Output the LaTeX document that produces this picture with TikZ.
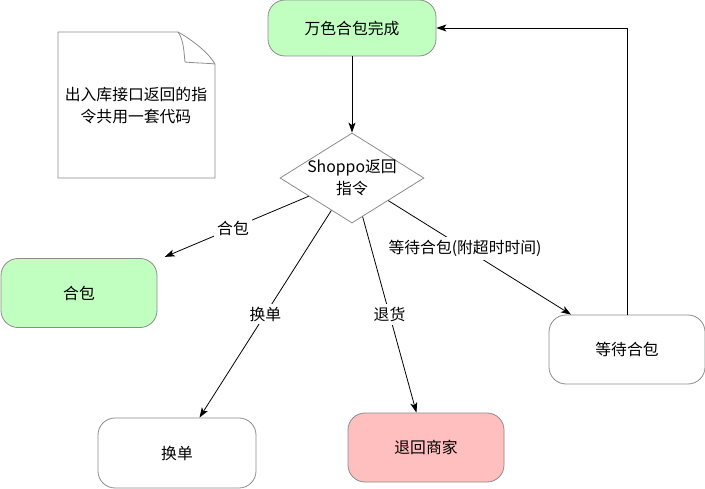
\documentclass[tikz,border=0pt]{standalone}
\usepackage{fontspec}
\setmainfont{Noto Sans CJK SC}
\usetikzlibrary{shapes.geometric,arrows.meta}
\definecolor{boxgreen}{RGB}{193,255,193}
\definecolor{boxred}{RGB}{255,191,191}
\definecolor{rimgray}{RGB}{140,140,140}

\begin{document}
\begin{tikzpicture}
	[x=1pt,y=-1pt,
	every node/.style={font=\fontsize{15.8}{22}\selectfont,align=center},
	box/.style={draw=rimgray,rounded corners=17pt,minimum width=156pt,minimum height=69pt,line width=0.8pt},
	decision/.style={diamond,draw=rimgray,minimum width=144pt,minimum height=90pt,inner sep=0pt,line width=0.8pt},
	arrow/.style={-{Stealth[length=10pt,width=7pt,inset=2.5pt]},line width=0.8pt},
	lbl/.style={fill=white,inner sep=3pt}]
	\useasboundingbox (0,0) rectangle (705,489);
	
	% note sheet
	\draw[rimgray,line width=0.8pt] (58,32) -- (178,32) .. controls (196,42) and (210,55) .. (215,64) -- (215,178) -- (58,178) -- cycle;
	\draw[rimgray,line width=0.8pt] (178,32) .. controls (184,40) and (184,54) .. (185,62) .. controls (195,63) and (205,63) .. (215,64);
	\node (memo) at (136,106) {出入库接口返回的指\\令共用一套代码};
	
	\node[box,fill=boxgreen,minimum width=168pt,minimum height=56pt] (done) at (352,28) {万色合包完成};
	\node[decision,label={center:{Shoppo返回\\指令}}] (dia) at (352,178) {};
	\node[box,fill=boxgreen] (hebao) at (79,293) {合包};
	\node[box,minimum width=158pt,minimum height=70pt] (huandan) at (177,453) {换单};
	\node[box,fill=boxred] (tuihuo) at (426,447.5) {退回商家};
	\node[box] (wait) at (627,349.5) {等待合包};
	
	\draw[arrow] (done) -- (dia);
	\foreach \to/\txt/\p/\sh in {hebao/合包/0.5/8pt,huandan/换单/0.5/0pt,tuihuo/退货/0.5/0pt,wait/等待合包(附超时时间)/0.42/0pt}
	\draw[arrow,shorten >=\sh] (dia) -- node[lbl,pos=\p]{\txt} (\to);
	\draw[arrow] (wait.north) |- (done.east);
\end{tikzpicture}
\end{document}
